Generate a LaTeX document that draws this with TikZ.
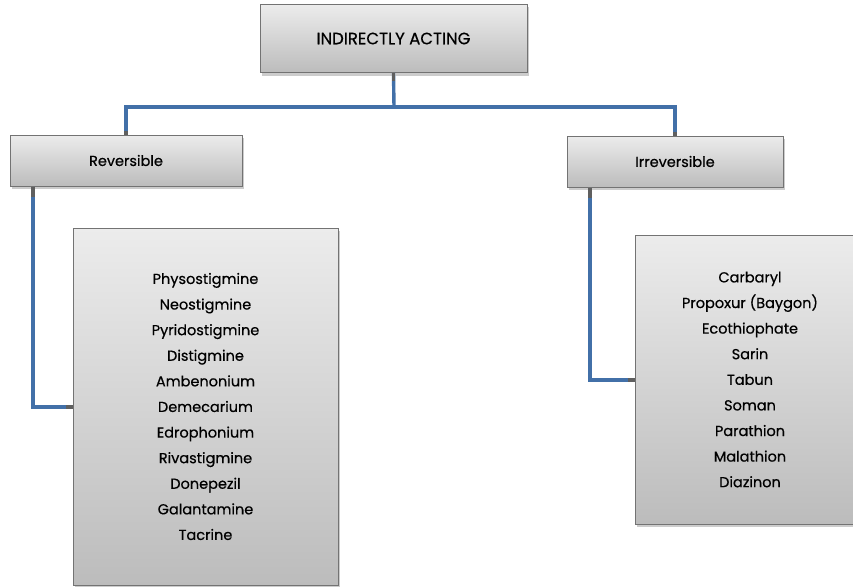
\documentclass[tikz,border=0pt]{standalone}
\usepackage{fontspec}
\setmainfont{Poppins}[FakeBold=0.5]
\usetikzlibrary{shadows}
\definecolor{linkblue}{RGB}{66,112,168}
\definecolor{stubgray}{RGB}{95,95,95}
\definecolor{boxtop}{RGB}{236,236,236}
\definecolor{boxbottom}{RGB}{188,188,188}
\definecolor{boxedge}{RGB}{115,115,115}
\tikzset{
  box/.style={draw=boxedge, line width=1pt, top color=boxtop, bottom color=boxbottom,
    drop shadow={opacity=0.4, shadow xshift=2pt, shadow yshift=-3pt},
    inner sep=0pt, align=center, font=\fontsize{14.5}{25.6}\selectfont},
  conn/.style={draw=linkblue, line width=3.4pt, line join=miter},
  stub/.style={draw=stubgray, line width=3.4pt}
}
\begin{document}
\begin{tikzpicture}[x=1pt, y=-1pt]
  \useasboundingbox (0,0) rectangle (853,586);
  \begin{scope}
  \clip (0,0) rectangle (853,586);

  % boxes
  \node[box, minimum width=267pt, minimum height=68pt, font=\fontsize{16.5}{20}\selectfont]
    (top) at (393.5,38.5) {INDIRECTLY ACTING};
  \node[box, minimum width=232pt, minimum height=51pt] (rev) at (126,160.5) {Reversible};
  \node[box, minimum width=216pt, minimum height=51pt] (irr) at (675,161.5) {Irreversible};
  \node[box, minimum width=265pt, minimum height=357pt] (revlist) at (205.5,406.5)
    {Physostigmine\\Neostigmine\\Pyridostigmine\\Distigmine\\Ambenonium\\Demecarium\\Edrophonium\\Rivastigmine\\Donepezil\\Galantamine\\Tacrine};
  \node[box, minimum width=230pt, minimum height=289pt] (irrlist) at (750,379.5)
    {Carbaryl\\Propoxur (Baygon)\\Ecothiophate\\Sarin\\Tabun\\Soman\\Parathion\\Malathion\\Diazinon};

  % junction points of the tree
  \coordinate (j) at (394,107);
  \coordinate (rl) at (33,407);
  \coordinate (il) at (590,380);

  % connectors
  \draw[conn] (top.south) -- (j);
  \draw[conn] (j) -| (rev.north);
  \draw[conn] (j) -| (irr.north);
  \draw[conn] (rev.south -| rl) -- (rl) -- (rl -| revlist.west);
  \draw[conn] (irr.south -| il) -- (il) -- (il -| irrlist.west);

  % short gray ends where connectors meet the boxes
  \draw[stub] (top.south) -- ++(0,8);
  \draw[stub] (rev.north) -- ++(0,-4);
  \draw[stub] (irr.north) -- ++(0,-4);
  \draw[stub] (rev.south -| rl) -- ++(0,10);
  \draw[stub] (irr.south -| il) -- ++(0,10);
  \draw[stub] (revlist.west |- rl) -- ++(-7,0);
  \draw[stub] (irrlist.west |- il) -- ++(-7,0);
  \end{scope}
\end{tikzpicture}
\end{document}
